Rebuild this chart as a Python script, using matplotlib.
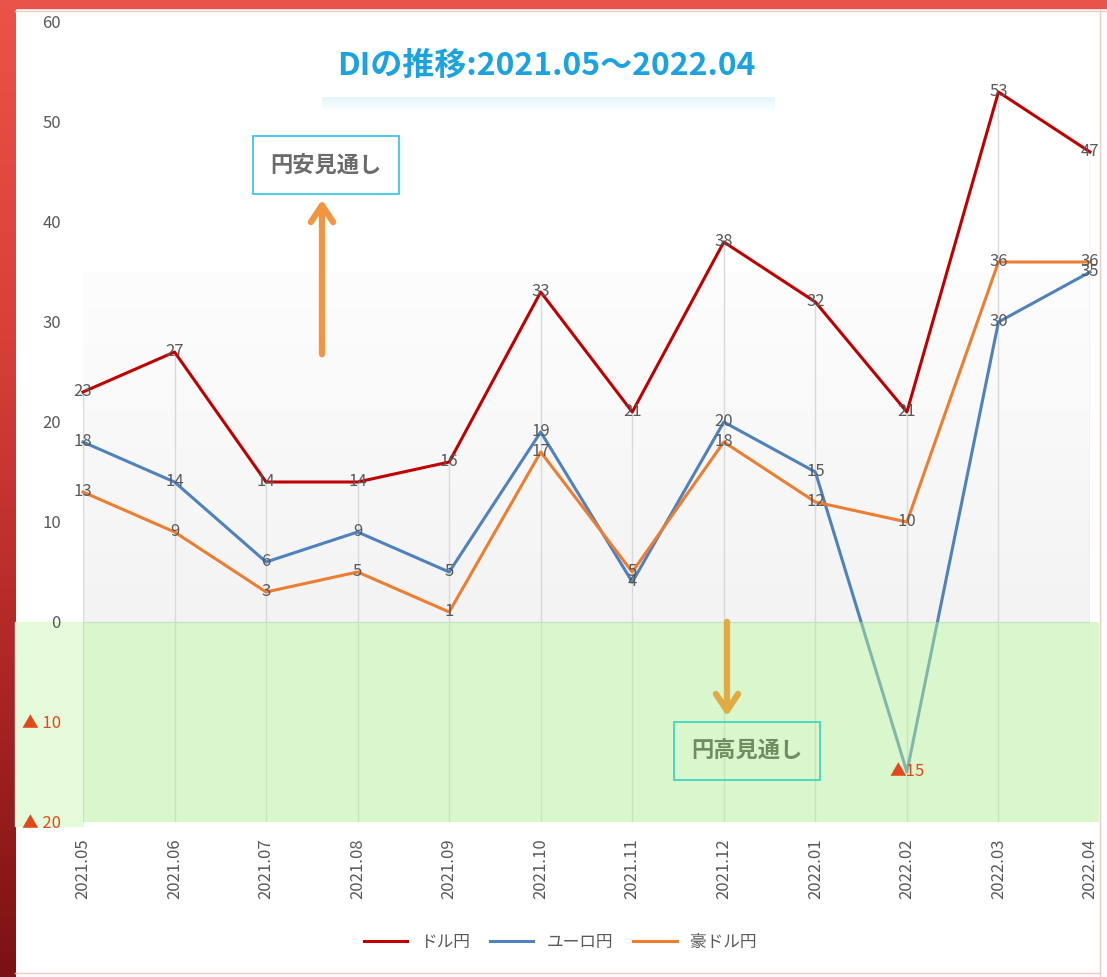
import numpy as np
import matplotlib.pyplot as plt
from matplotlib.patches import Rectangle, FancyArrowPatch
from matplotlib.colors import LinearSegmentedColormap
from matplotlib.ticker import FixedLocator

plt.rcParams['font.family'] = ['Noto Sans CJK JP', 'DejaVu Sans']

months = ['2021.05', '2021.06', '2021.07', '2021.08', '2021.09', '2021.10',
          '2021.11', '2021.12', '2022.01', '2022.02', '2022.03', '2022.04']
usd_jpy = [23, 27, 14, 14, 16, 33, 21, 38, 32, 21, 53, 47]
eur_jpy = [18, 14, 6, 9, 5, 19, 4, 20, 15, -15, 30, 35]
aud_jpy = [13, 9, 3, 5, 1, 17, 5, 18, 12, 10, 36, 36]
series_names = ['ドル円', 'ユーロ円', '豪ドル円']
series_colors = ['#C00000', '#4F81BD', '#ED7D31']
y_ticks = [60, 50, 40, 30, 20, 10, 0, -10, -20]

W, H = 1107, 977
fig = plt.figure(figsize=(W / 100, H / 100), dpi=100)
fig.patch.set_facecolor('white')


def fx(px):
    return px / W


def fy(py):
    return (H - py) / H


# red frame on left/top
frame = fig.add_axes([0, 0, fx(15), 1])
grad = np.linspace(0, 1, 256).reshape(-1, 1)
red_cmap = LinearSegmentedColormap.from_list('r', ['#EA5349', '#D8413A', '#B02828', '#7A1212'])
frame.imshow(grad, aspect='auto', cmap=red_cmap, extent=[0, 1, 0, 1])
frame.axis('off')
fig.patches.append(Rectangle((0, fy(8)), 1, 8 / H, transform=fig.transFigure,
                             color='#EA5349', zorder=5))
# faint sheet grid lines
fig.add_artist(plt.Line2D([fx(1100), fx(1100)], [0, fy(10)], color='#F0C8C8', lw=1))
fig.add_artist(plt.Line2D([fx(15), 1], [fy(11), fy(11)], color='#F0C8C8', lw=1))
fig.add_artist(plt.Line2D([fx(15), fx(1100)], [fy(973), fy(973)], color='#F0C8C8', lw=1))

# lighter green strip left of the plot area
fig.patches.append(Rectangle((fx(15), fy(826)), fx(83 - 15), (826 - 622) / H,
                             transform=fig.transFigure, color='#E4FADA', zorder=0))

# title box with soft blue shadow
shadow = fig.add_axes([fx(322), fy(112), fx(775 - 322), 22 / H])
sh = np.linspace(0, 1, 64).reshape(-1, 1)
shadow.imshow(sh, aspect='auto', origin='lower',
              cmap=LinearSegmentedColormap.from_list('s', ['#FFFFFF', '#D6EEFA']))
shadow.axis('off')
fig.patches.append(Rectangle((fx(318), fy(96)), fx(778 - 318), (96 - 38) / H,
                             transform=fig.transFigure, color='white', zorder=2))

ax = fig.add_axes([fx(83), fy(822), fx(1090 - 83), (822 - 22) / H])
ax.set_zorder(3)
ax.patch.set_alpha(0)
x = np.arange(len(months))
ax.set_xlim(0, len(months) - 1)
ax.set_ylim(-20, 60)
for s in ax.spines.values():
    s.set_visible(False)

# light gray gradient band
band = np.linspace(0, 1, 256).reshape(-1, 1)
gray_cmap = LinearSegmentedColormap.from_list('g', ['#F3F3F3', '#FDFDFD'])
ax.imshow(band, aspect='auto', cmap=gray_cmap, extent=[0, len(months) - 1, 0, 35],
          origin='lower', zorder=0)

# drop lines and baseline
ax.vlines(x, -20, usd_jpy, color='#D9D9D9', lw=1, zorder=1)
ax.axhline(0, color='#D9D9D9', lw=1, zorder=1)

for vals, name, col in zip([usd_jpy, eur_jpy, aud_jpy], series_names, series_colors):
    ax.plot(x, vals, color=col, lw=2.2, label=name, zorder=3, clip_on=False)
    for xi, v in zip(x, vals):
        if v < 0:
            ax.text(xi, v, f'▲{abs(v)}', ha='center', va='center', fontsize=12,
                    color='#E04A1A', zorder=6)
        else:
            ax.text(xi, v, str(v), ha='center', va='center', fontsize=12,
                    color='#595959', zorder=4)

# green zone (yen-strong side)
ax.add_patch(Rectangle((0, -20), len(months) - 1 + 0.1, 20, color='#B4EE9A',
                       alpha=0.5, lw=0, zorder=5, clip_on=False))

ax.set_xticks(x)
ax.set_xticklabels(months, rotation=90, fontsize=12, color='#595959')
ax.yaxis.set_major_locator(FixedLocator(y_ticks))
ax.set_yticklabels([f'▲ {abs(t)}' if t < 0 else str(t) for t in y_ticks], fontsize=12)
for lab, t in zip(ax.get_yticklabels(), y_ticks):
    lab.set_color('#E04A1A' if t < 0 else '#595959')
ax.tick_params(axis='y', length=0, pad=16)
ax.tick_params(axis='x', length=0, pad=12)

fig.text(fx(546), fy(66), 'DIの推移:2021.05～2022.04', ha='center', va='center',
         fontsize=23, weight='bold', color='#1AA3E0', zorder=4)

# annotations
fig.text(fx(326), fy(165), '円安見通し', ha='center', va='center', fontsize=16,
         weight='bold', color='#6B6B6B', zorder=6,
         bbox=dict(boxstyle='square,pad=0.8', fc='white', ec='#3CC8E8', lw=1.3))
fig.add_artist(FancyArrowPatch(
    (fx(322), fy(357)), (fx(322), fy(197)), transform=fig.transFigure,
    arrowstyle='->,head_length=12,head_width=8', color='#F29440', lw=4.5,
    mutation_scale=1, zorder=10))

fig.text(fx(747), fy(751), '円高見通し', ha='center', va='center', fontsize=16,
         weight='bold', color='#6E8E60', zorder=4,
         bbox=dict(boxstyle='square,pad=0.8', fc='none', ec='#40D6C4', lw=1.3))
fig.add_artist(FancyArrowPatch(
    (fx(727), fy(619)), (fx(727), fy(719)), transform=fig.transFigure,
    arrowstyle='->,head_length=12,head_width=8', color='#E0AA45', lw=4.5,
    mutation_scale=1, zorder=10))

fig.legend(loc='center', bbox_to_anchor=(fx(560), fy(942)), ncol=3, frameon=False,
           fontsize=12, handlelength=2.6, columnspacing=1.2, labelcolor='#595959')

fig.savefig('out.png', dpi=100)
